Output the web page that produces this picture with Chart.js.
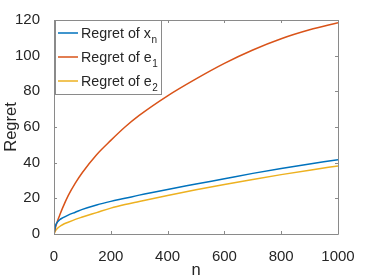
<!DOCTYPE html>
<html>
<head>
<meta charset="utf-8">
<script src="https://cdn.jsdelivr.net/npm/chart.js@4.4.1/dist/chart.umd.min.js"></script>
<style>
  html, body { margin: 0; padding: 0; background: #fff; }
  #wrap { width: 374px; height: 280px; position: relative; }
</style>
</head>
<body>
<div id="wrap"><canvas id="regret-canvas"></canvas></div>
<script>
// values
const nValues  = [0, 5, 10, 20, 30, 50, 75, 100, 150, 200, 250, 300, 400, 500, 600, 700, 800, 900, 1000];
const regretX  = [0, 4.5, 6.3, 8.0, 9.0, 10.6, 12.2, 13.8, 16.3, 18.3, 20.0, 21.8, 25.0, 28.0, 31.0, 34.0, 36.7, 39.2, 41.7];
const regretE1 = [0, 3.5, 6.2, 10.5, 14.5, 21.5, 28.5, 34.5, 44.5, 52.5, 60.0, 66.5, 77.5, 87.0, 95.7, 103.2, 109.5, 114.5, 118.5];
const regretE2 = [0, 1.8, 2.8, 4.2, 5.2, 6.6, 8.2, 9.5, 12.0, 14.5, 16.5, 18.2, 21.6, 24.8, 27.8, 30.6, 33.3, 35.8, 38.2];

const seriesNames = ['Regret of x', 'Regret of e', 'Regret of e'];
const seriesSubs = ['n', '1', '2'];
const seriesColors = ['#0072BD', '#D95319', '#EDB120'];

const xTitle = 'n';
const yTitle = 'Regret';

const FONT = '"Liberation Sans", Arial, Helvetica, sans-serif';
const TEXT_COLOR = '#262626';
const AXIS_COLOR = '#8a8a8a';

const toPoints = ys => nValues.map((n, i) => ({ x: n, y: ys[i] }));

// MATLAB style box with inward ticks on all four sides
const boxPlugin = {
  id: 'matlabBox',
  afterDraw(chart) {
    const { ctx, chartArea: a, scales } = chart;
    const tl = 3;
    ctx.save();
    ctx.strokeStyle = AXIS_COLOR;
    ctx.lineWidth = 1;
    ctx.beginPath();
    ctx.rect(a.left + 0.5, a.top + 0.5, a.right - a.left, a.bottom - a.top);
    scales.x.ticks.forEach(t => {
      const px = Math.round(scales.x.getPixelForValue(t.value)) + 0.5;
      ctx.moveTo(px, a.bottom); ctx.lineTo(px, a.bottom - tl);
      ctx.moveTo(px, a.top); ctx.lineTo(px, a.top + tl);
    });
    scales.y.ticks.forEach(t => {
      const py = Math.round(scales.y.getPixelForValue(t.value)) + 0.5;
      ctx.moveTo(a.left, py); ctx.lineTo(a.left + tl, py);
      ctx.moveTo(a.right, py); ctx.lineTo(a.right - tl, py);
    });
    ctx.stroke();
    ctx.restore();
  }
};

// legend with subscripts, top-left inside the axes
const legendPlugin = {
  id: 'subLegend',
  afterDraw(chart) {
    const { ctx, chartArea: a } = chart;
    const x0 = a.left + 1, y0 = a.top + 0.5, w = 106, h = 74;
    ctx.save();
    ctx.fillStyle = '#fff';
    ctx.fillRect(x0, y0, w, h);
    ctx.strokeStyle = AXIS_COLOR;
    ctx.lineWidth = 1;
    ctx.strokeRect(x0 + 0.5, y0, w, h);
    chart.data.datasets.forEach((ds, i) => {
      const cy = y0 + 12.5 + i * 24;
      ctx.strokeStyle = ds.borderColor;
      ctx.lineWidth = 1.5;
      ctx.beginPath();
      ctx.moveTo(x0 + 3, cy); ctx.lineTo(x0 + 23, cy);
      ctx.stroke();
      ctx.fillStyle = TEXT_COLOR;
      ctx.textBaseline = 'alphabetic';
      ctx.textAlign = 'left';
      ctx.font = '14.3px ' + FONT;
      const tx = x0 + 26;
      ctx.fillText(seriesNames[i], tx, cy + 5.3);
      const tw = ctx.measureText(seriesNames[i]).width;
      ctx.font = '10px ' + FONT;
      ctx.fillText(seriesSubs[i], tx + tw + 0.5, cy + 10.3);
    });
    ctx.restore();
  }
};

new Chart(document.getElementById('regret-canvas'), {
  type: 'line',
  data: {
    datasets: [
      { label: 'Regret of x_n', data: toPoints(regretX), borderColor: seriesColors[0] },
      { label: 'Regret of e_1', data: toPoints(regretE1), borderColor: seriesColors[1] },
      { label: 'Regret of e_2', data: toPoints(regretE2), borderColor: seriesColors[2] },
    ].map(d => Object.assign(d, {
      borderWidth: 1.5,
      pointRadius: 0,
      fill: false,
      cubicInterpolationMode: 'monotone',
    }))
  },
  options: {
    responsive: true,
    maintainAspectRatio: false,
    animation: false,
    layout: { padding: { left: 0, top: 20, right: 36, bottom: 0 } },
    plugins: { legend: { display: false }, tooltip: { enabled: false } },
    scales: {
      x: {
        type: 'linear',
        min: 0, max: 1000,
        grid: { display: false },
        border: { display: false },
        ticks: { stepSize: 200, color: TEXT_COLOR, padding: 6, maxRotation: 0, font: { family: FONT, size: 15 }, callback: v => String(v) },
        title: { display: true, text: xTitle, color: TEXT_COLOR, padding: { top: 0, bottom: 0 }, font: { family: FONT, size: 16.5 } },
        afterFit(scale) { scale.height = 46; }
      },
      y: {
        min: 0, max: 120,
        grid: { display: false },
        border: { display: false },
        ticks: { stepSize: 20, color: TEXT_COLOR, padding: 6, font: { family: FONT, size: 15 }, callback: v => String(v) },
        title: { display: true, text: yTitle, color: TEXT_COLOR, padding: { top: 2, bottom: 4 }, font: { family: FONT, size: 16.5 } },
        afterFit(scale) { scale.width = 54; }
      }
    }
  },
  plugins: [boxPlugin, legendPlugin]
});
</script>
</body>
</html>
